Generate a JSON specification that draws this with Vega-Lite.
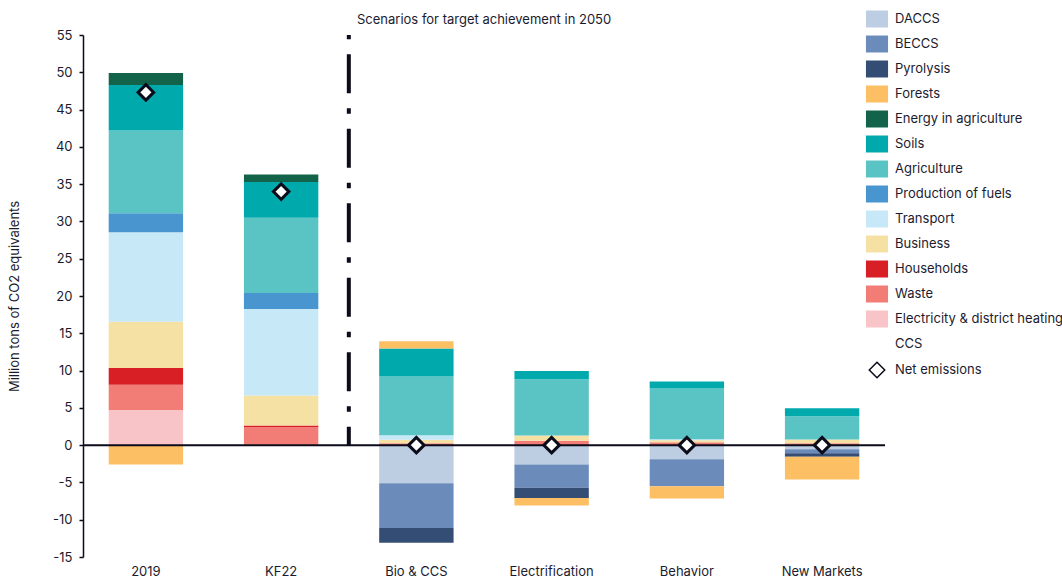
{
  "$schema": "https://vega.github.io/schema/vega-lite/v6.json",
  "autosize": {"type": "none"},
  "padding": {"left": 83, "top": 35, "right": 177, "bottom": 21},
  "width": 802,
  "height": 522,
  "background": "white",
  "config": {
    "font": "Inter",
    "view": {"stroke": null},
    "axis": {"labelColor": "#1b1b2f", "titleColor": "#1b1b2f", "labelFontSize": 13, "titleFontSize": 13, "titleFontWeight": "normal"},
    "legend": {"labelColor": "#1b1b2f", "labelFontSize": 13, "padding": 0}
  },
  "title": {"text": "Scenarios for target achievement in 2050", "anchor": "start", "frame": "group", "dx": 274, "dy": 20, "fontSize": 13, "fontWeight": "normal", "color": "#1b1b2f", "offset": 4},
  "datasets": {
    "sectors": [
      {"cat": "2019", "sector": "Forests", "value": -2.6},
      {"cat": "2019", "sector": "Electricity & district heating", "value": 4.7},
      {"cat": "2019", "sector": "Waste", "value": 3.4},
      {"cat": "2019", "sector": "Households", "value": 2.25},
      {"cat": "2019", "sector": "Business", "value": 6.2},
      {"cat": "2019", "sector": "Transport", "value": 12.0},
      {"cat": "2019", "sector": "Production of fuels", "value": 2.55},
      {"cat": "2019", "sector": "Agriculture", "value": 11.1},
      {"cat": "2019", "sector": "Soils", "value": 6.1},
      {"cat": "2019", "sector": "Energy in agriculture", "value": 1.6},
      {"cat": "KF22", "sector": "Waste", "value": 2.4},
      {"cat": "KF22", "sector": "Households", "value": 0.25},
      {"cat": "KF22", "sector": "Business", "value": 4.0},
      {"cat": "KF22", "sector": "Transport", "value": 11.6},
      {"cat": "KF22", "sector": "Production of fuels", "value": 2.15},
      {"cat": "KF22", "sector": "Agriculture", "value": 10.1},
      {"cat": "KF22", "sector": "Soils", "value": 4.8},
      {"cat": "KF22", "sector": "Energy in agriculture", "value": 1.0},
      {"cat": "Bio & CCS", "sector": "Waste", "value": 0.27},
      {"cat": "Bio & CCS", "sector": "Business", "value": 0.45},
      {"cat": "Bio & CCS", "sector": "Transport", "value": 0.6},
      {"cat": "Bio & CCS", "sector": "Agriculture", "value": 7.9},
      {"cat": "Bio & CCS", "sector": "Soils", "value": 3.75},
      {"cat": "Bio & CCS", "sector": "Forests", "value": 0.95},
      {"cat": "Bio & CCS", "sector": "DACCS", "value": -5.1},
      {"cat": "Bio & CCS", "sector": "BECCS", "value": -6.0},
      {"cat": "Bio & CCS", "sector": "Pyrolysis", "value": -2.0},
      {"cat": "Electrification", "sector": "Waste", "value": 0.6},
      {"cat": "Electrification", "sector": "Business", "value": 0.7},
      {"cat": "Electrification", "sector": "Agriculture", "value": 7.55},
      {"cat": "Electrification", "sector": "Soils", "value": 1.1},
      {"cat": "Electrification", "sector": "DACCS", "value": -2.6},
      {"cat": "Electrification", "sector": "BECCS", "value": -3.1},
      {"cat": "Electrification", "sector": "Pyrolysis", "value": -1.4},
      {"cat": "Electrification", "sector": "Forests", "value": -1.0},
      {"cat": "Behavior", "sector": "Waste", "value": 0.25},
      {"cat": "Behavior", "sector": "Households", "value": 0.12},
      {"cat": "Behavior", "sector": "Business", "value": 0.3},
      {"cat": "Behavior", "sector": "Transport", "value": 0.12},
      {"cat": "Behavior", "sector": "Agriculture", "value": 6.8},
      {"cat": "Behavior", "sector": "Soils", "value": 0.95},
      {"cat": "Behavior", "sector": "DACCS", "value": -1.9},
      {"cat": "Behavior", "sector": "BECCS", "value": -3.6},
      {"cat": "Behavior", "sector": "Forests", "value": -1.65},
      {"cat": "New Markets", "sector": "Waste", "value": 0.27},
      {"cat": "New Markets", "sector": "Business", "value": 0.5},
      {"cat": "New Markets", "sector": "Agriculture", "value": 3.1},
      {"cat": "New Markets", "sector": "Soils", "value": 1.07},
      {"cat": "New Markets", "sector": "DACCS", "value": -0.55},
      {"cat": "New Markets", "sector": "BECCS", "value": -0.55},
      {"cat": "New Markets", "sector": "Pyrolysis", "value": -0.45},
      {"cat": "New Markets", "sector": "Forests", "value": -3.05}
    ],
    "net": [
      {"cat": "2019", "net": 47.3},
      {"cat": "KF22", "net": 34.0},
      {"cat": "Bio & CCS", "net": 0},
      {"cat": "Electrification", "net": 0},
      {"cat": "Behavior", "net": 0},
      {"cat": "New Markets", "net": 0}
    ],
    "one": [{}]
  },
  "layer": [
    {
      "data": {"name": "sectors"},
      "transform": [
        {"calculate": "indexof(['DACCS','BECCS','Pyrolysis','Electricity & district heating','Waste','Households','Business','Transport','Production of fuels','Agriculture','Soils','Energy in agriculture','Forests'], datum.sector)", "as": "stackOrder"}
      ],
      "mark": {"type": "bar"},
      "encoding": {
        "x": {"field": "cat", "type": "nominal", "sort": ["2019", "KF22", "Bio & CCS", "Electrification", "Behavior", "New Markets"],
              "scale": {"paddingInner": 0.45, "paddingOuter": 0.19},
              "axis": {"title": null, "labelAngle": 0, "domain": false, "ticks": false, "labelPadding": 8}},
        "y": {"field": "value", "type": "quantitative", "stack": "zero",
              "scale": {"domain": [-15, 55], "nice": false},
              "axis": {"title": "Million tons of CO2 equivalents", "values": [-15, -10, -5, 0, 5, 10, 15, 20, 25, 30, 35, 40, 45, 50, 55], "tickCount": 30, "labelExpr": "'' + datum.value", "labelOverlap": false, "grid": false, "domainColor": "#0b0b1a", "domainWidth": 1.5, "tickColor": "#0b0b1a", "tickSize": 4, "tickWidth": 1.5, "labelPadding": 7, "titlePadding": 31}},
        "order": {"field": "stackOrder", "type": "quantitative", "sort": "ascending"},
        "color": {"field": "sector", "type": "nominal",
                  "scale": {"domain": ["DACCS", "BECCS", "Pyrolysis", "Forests", "Energy in agriculture", "Soils", "Agriculture", "Production of fuels", "Transport", "Business", "Households", "Waste", "Electricity & district heating", "CCS"],
                            "range": ["#bdcde2", "#6b8cbb", "#344d75", "#fdbf63", "#12634a", "#00a9ac", "#5ac4c5", "#4895cf", "#c6e8f7", "#f5e1a4", "#d91f26", "#f27d76", "#f8c4c7", "#ffffff"]},
                  "legend": {"title": null, "orient": "none", "legendX": 785.5, "legendY": -24.5, "symbolType": "M-1.3,-1H1.3V1H-1.3Z", "symbolSize": 289, "symbolStrokeWidth": 0, "symbolOpacity": 1, "labelOffset": 9.5, "rowPadding": 8, "labelLimit": 200}}
      }
    },
    {
      "data": {"name": "one"},
      "mark": {"type": "rule", "color": "#0b0b1a", "strokeWidth": 2},
      "encoding": {"y": {"datum": 0}}
    },
    {
      "data": {"name": "one"},
      "mark": {"type": "rule", "color": "#0b0b1a", "strokeWidth": 4, "strokeDash": [39, 15, 5.5, 15], "strokeDashOffset": 20.5},
      "encoding": {
        "x": {"datum": "KF22", "type": "nominal", "bandPosition": 1.41},
        "y": {"datum": 0},
        "y2": {"datum": 55}
      }
    },
    {
      "data": {"name": "net"},
      "mark": {"type": "point", "shape": "diamond", "filled": true, "fill": "white", "stroke": "#0b0b1a", "strokeWidth": 3, "size": 240, "opacity": 1},
      "encoding": {
        "x": {"field": "cat", "type": "nominal", "sort": ["2019", "KF22", "Bio & CCS", "Electrification", "Behavior", "New Markets"]},
        "y": {"field": "net", "type": "quantitative"},
        "shape": {"datum": "Net emissions", "scale": {"range": ["diamond"]},
                  "legend": {"title": null, "orient": "none", "legendX": 785.5, "legendY": 326.5, "symbolType": "diamond", "symbolSize": 240, "labelOffset": 9.5,
                             "encode": {"symbols": {"update": {"fill": {"value": "white"}, "stroke": {"value": "#0b0b1a"}, "strokeWidth": {"value": 3}, "opacity": {"value": 1}}}}}}
      }
    }
  ]
}
